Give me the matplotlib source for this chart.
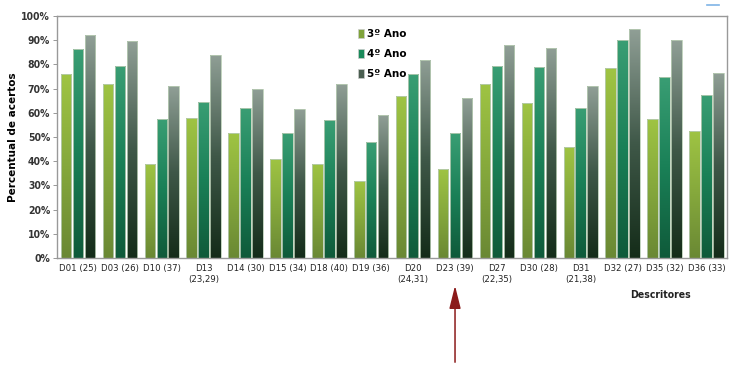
import numpy as np
import matplotlib.pyplot as plt
from matplotlib.patches import Patch
from matplotlib.colors import LinearSegmentedColormap

# Data
categories = ["D01 (25)", "D03 (26)", "D10 (37)", "D13\n(23,29)", "D14 (30)",
              "D15 (34)", "D18 (40)", "D19 (36)", "D20\n(24,31)", "D23 (39)",
              "D27\n(22,35)", "D30 (28)", "D31\n(21,38)", "D32 (27)",
              "D35 (32)", "D36 (33)"]
ano3 = [76, 72, 39, 58, 51.5, 41, 39, 32, 67, 37, 72, 64, 46, 78.5, 57.5, 52.5]
ano4 = [86.5, 79.5, 57.5, 64.5, 62, 51.5, 57, 48, 76, 51.5, 79.5, 79, 62, 90, 75, 67.5]
ano5 = [92, 89.5, 71, 84, 70, 61.5, 72, 59, 82, 66, 88, 87, 71, 94.5, 90, 76.5]
series_labels = ["3º Ano", "4º Ano", "5º Ano"]
yticks = np.arange(0, 101, 10)

# gradient colour stops (top -> bottom) per series
grad_stops = [
    ["#9fc443", "#85a83c", "#6a8834"],
    ["#3a9e74", "#1a8057", "#0f5a3a"],
    ["#909f96", "#3f5848", "#142c19"],
]
legend_colors = ["#7fa33a", "#1a8a5a", "#4a5e50"]

plt.rcParams["font.family"] = ["DejaVu Sans"]

fig = plt.figure(figsize=(7.31, 3.65), dpi=100)
ax = fig.add_axes([0.078, 0.293, 0.917, 0.663])

x = np.arange(len(categories))
width = 0.25
offsets = [-0.285, 0.0, 0.285]
all_series = [ano3, ano4, ano5]

grad = np.linspace(1, 0, 256).reshape(-1, 1)
for k, (vals, stops) in enumerate(zip(all_series, grad_stops)):
    cmap = LinearSegmentedColormap.from_list(f"g{k}", stops[::-1])
    bars = ax.bar(x + offsets[k], vals, width, color="none",
                  edgecolor="#b8ccb4", linewidth=0.6, zorder=3)
    for b in bars:
        x0, w, h = b.get_x(), b.get_width(), b.get_height()
        im = ax.imshow(grad, extent=[x0, x0 + w, 0, h], cmap=cmap,
                       aspect="auto", zorder=2, interpolation="bilinear")
        im.set_clip_path(b)

ax.set_xlim(-0.5, len(categories) - 0.5)
ax.set_ylim(0, 100)
ax.set_yticks(yticks)
ax.set_yticklabels([f"{v}%" for v in yticks], fontsize=7.5, fontweight="bold",
                   color="#333333", fontstretch="condensed")
ax.set_xticks(x)
ax.set_xticklabels(categories, fontsize=6.8, fontstretch="condensed",
                   color="#222222", linespacing=1.35)
ax.tick_params(axis="x", length=0, pad=4)
ax.tick_params(axis="y", length=3, width=0.6, color="#888888", pad=2)
for s in ax.spines.values():
    s.set_color("#999999")
    s.set_linewidth(1.0)

ax.set_ylabel("Percentual de acertos", fontsize=7.5, fontweight="bold")
ax.yaxis.set_label_coords(-0.058, 0.5)
fig.text(0.903, 0.192, "Descritores", fontsize=7.5, fontweight="bold",
         ha="center", va="center", color="#222222", fontstretch="condensed")

handles = [Patch(facecolor=c, edgecolor="#cccccc", linewidth=0.5)
           for c in legend_colors]
leg = ax.legend(handles, series_labels, loc="upper left",
                bbox_to_anchor=(0.435, 0.985), frameon=False, fontsize=7.5,
                handlelength=0.6, handleheight=0.9, handletextpad=0.3,
                labelspacing=0.95)
for t in leg.get_texts():
    t.set_fontweight("bold")

# red arrow pointing to D23
ax.annotate("", xy=(9, 0.225), xycoords=("data", "figure fraction"),
            xytext=(9, 0.0), textcoords=("data", "figure fraction"),
            arrowprops=dict(arrowstyle="-|>,head_length=1.0,head_width=0.25",
                            color="#8b1a1a", lw=1.1, mutation_scale=14))

# tiny blue mark at top right
fig.add_artist(plt.Line2D([0.967, 0.983], [0.985, 0.985], color="#7fb4e6",
                          lw=1.2))

fig.savefig("out.png", dpi=100)
